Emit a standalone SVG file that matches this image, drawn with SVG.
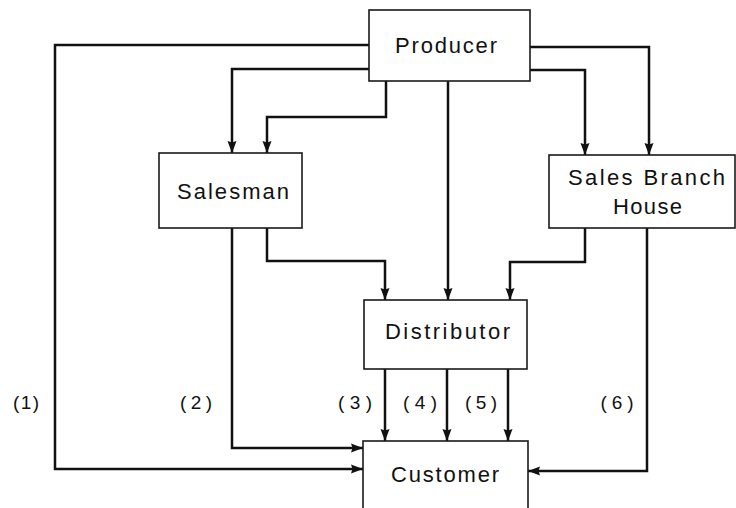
<svg xmlns="http://www.w3.org/2000/svg" width="736" height="508" viewBox="0 0 736 508">
<style>
  .box { fill: #ffffff; stroke: #1a1a1a; stroke-width: 1.6; }
  .lbl { font-family: "Liberation Sans", Arial, sans-serif; font-size: 22px; fill: #111; text-anchor: middle; }
  .num { font-family: "Liberation Sans", Arial, sans-serif; font-size: 19px; fill: #111; text-anchor: middle; }
  .conn { fill: none; stroke: #111; stroke-width: 2.5; stroke-linejoin: miter; marker-end: url(#arr); }
</style>
<defs>
  <marker id="arr" markerUnits="userSpaceOnUse" markerWidth="13" markerHeight="11" refX="12" refY="5" orient="auto">
    <path d="M0,0.5 L12,5 L0,9.5 L1.5,5 z" fill="#111"/>
  </marker>
</defs>
<rect width="736" height="508" fill="#ffffff"/>
<g id="connectors">
  <path class="conn" d="M369,45 H55 V469 H363"/>
  <path class="conn" d="M369,69 H232 V153"/>
  <path class="conn" d="M386,81 V117 H267 V153"/>
  <path class="conn" d="M448,81 V300"/>
  <path class="conn" d="M530,47 H649 V155"/>
  <path class="conn" d="M530,70 H585 V155"/>
  <path class="conn" d="M232,228 V448 H363"/>
  <path class="conn" d="M267,228 V261 H385 V300"/>
  <path class="conn" d="M585,228 V262 H510 V300"/>
  <path class="conn" d="M647,228 V471 H528"/>
  <path class="conn" d="M385,369 V441"/>
  <path class="conn" d="M447,369 V441"/>
  <path class="conn" d="M508,369 V441"/>
</g>
<g id="producer">
  <rect class="box" x="369" y="10" width="161" height="71"/>
  <text class="lbl" x="446" y="53" textLength="102" lengthAdjust="spacing">Producer</text>
</g>
<g id="salesman">
  <rect class="box" x="159" y="153" width="143" height="75"/>
  <text class="lbl" x="233" y="199" textLength="112" lengthAdjust="spacing">Salesman</text>
</g>
<g id="sales-branch-house">
  <rect class="box" x="549" y="155" width="186" height="73"/>
  <text class="lbl" x="646.5" y="185" textLength="157" lengthAdjust="spacing">Sales Branch</text>
  <text class="lbl" x="647.5" y="214" textLength="69" lengthAdjust="spacing">House</text>
</g>
<g id="distributor">
  <rect class="box" x="364" y="300" width="163" height="69"/>
  <text class="lbl" x="447.5" y="339" textLength="125" lengthAdjust="spacing">Distributor</text>
</g>
<g id="customer">
  <rect class="box" x="363" y="441" width="165" height="80"/>
  <text class="lbl" x="445" y="482" textLength="108" lengthAdjust="spacing">Customer</text>
</g>
<g id="labels">
  <text class="num" x="26" y="409" textLength="26" lengthAdjust="spacing">(1)</text>
  <text class="num" x="196" y="409" textLength="32" lengthAdjust="spacing">(2)</text>
  <text class="num" x="355" y="409" textLength="34" lengthAdjust="spacing">(3)</text>
  <text class="num" x="420" y="409" textLength="34" lengthAdjust="spacing">(4)</text>
  <text class="num" x="481" y="409" textLength="32" lengthAdjust="spacing">(5)</text>
  <text class="num" x="617" y="409" textLength="33" lengthAdjust="spacing">(6)</text>
</g>
</svg>
